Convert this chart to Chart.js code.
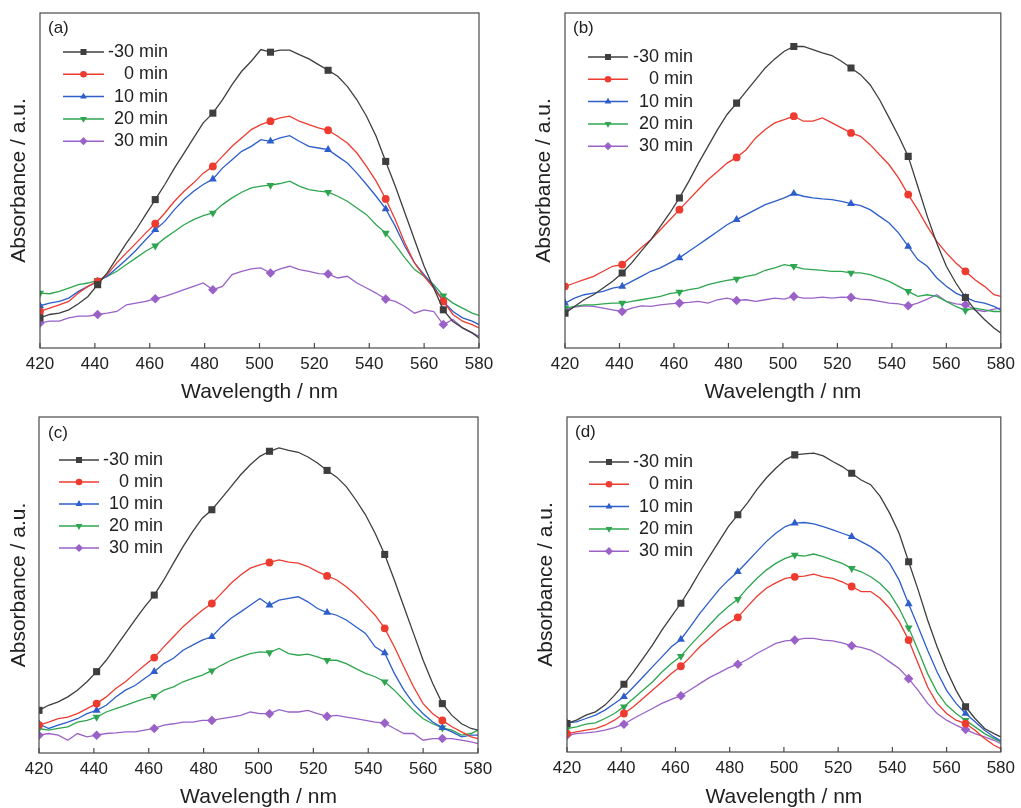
<!DOCTYPE html>
<html>
<head>
<meta charset="utf-8">
<script src="https://cdn.jsdelivr.net/npm/chart.js@4.4.1/dist/chart.umd.min.js"></script>
<style>
  body { margin: 0; background: #fff; width: 1021px; height: 808px; position: relative; overflow: hidden; }
  .panel { position: absolute; }
</style>
</head>
<body>
<div class="panel" id="pa"><canvas id="ca"></canvas></div>
<div class="panel" id="pb"><canvas id="cb"></canvas></div>
<div class="panel" id="pc"><canvas id="cc"></canvas></div>
<div class="panel" id="pd"><canvas id="cd"></canvas></div>
<script>
// wavelength grid (nm), read every 3.5 nm
const wavelengths = [420, 423.5, 427, 430.5, 434, 437.5, 441, 444.5, 448, 451.5, 455, 458.5, 462, 465.5, 469, 472.5,
  476, 479.5, 483, 486.5, 490, 493.5, 497, 500.5, 504, 507.5, 511, 514.5, 518, 521.5, 525, 528.5, 532, 535.5,
  539, 542.5, 546, 549.5, 553, 556.5, 560, 563.5, 567, 570.5, 574, 577.5, 580];
const xTicks = [420, 440, 460, 480, 500, 520, 540, 560, 580];
const seriesLabels = ["-30 min", "0 min", "10 min", "20 min", "30 min"];

// panel (a)
const aM30 = [9.0,10,10.4,11.4,13.2,15.4,18.9,22.4,26.9,31.3,35.3,39.8,44.3,48.8,53.7,58.2,62.7,67.2,70.1,74.1,
  78.6,82.6,85.6,89.1,88.3,88.9,88.9,87.6,86.3,84.6,82.9,81.1,78.1,74.1,69.2,63.2,55.7,48.3,40.3,32.3,24.4,17.9,11.4,7.9,6.0,4.5,3.0];
const a0 = [10.9,11.9,12.9,13.9,16.4,18.4,19.9,21.9,25.4,28.4,31.3,34.3,37.1,40.3,43.8,46.8,49.3,52.2,54.2,57.2,
  60.2,62.7,65.2,66.7,67.7,68.7,69.2,67.7,66.7,65.7,65.0,63.2,61.2,58.2,54.2,49.8,44.5,38.3,31.3,25.4,21.4,17.9,13.9,10.0,8.0,7.0,6.0];
const a10 = [12.6,13.4,13.9,14.9,16.9,18.4,19.9,21.4,23.9,26.4,29.2,32.3,35.3,37.8,41.3,44.3,46.8,48.8,50.4,53.7,
  56.2,58.7,60.2,62.2,61.7,62.7,63.4,61.7,60.2,59.7,59.2,57.2,55.2,52.2,48.8,45.3,41.5,36.3,30.3,25.4,21.9,18.4,13.9,10.9,9.0,8.0,7.0];
const a20 = [16.4,16.2,16.9,17.9,18.9,19.4,20.2,21.4,22.9,24.9,26.9,28.9,30.5,32.8,34.8,36.8,38.3,39.5,40.3,42.8,
  44.8,46.5,47.8,48.3,48.6,49.1,49.8,48.3,47.3,46.8,46.5,45.3,43.8,41.8,39.8,36.8,34.3,30.8,26.9,23.4,21.4,18.9,15.6,13.4,11.9,10.4,9.7];
const a30 = [7.5,8.0,8.0,9.0,9.5,9.5,10.0,10.4,10.9,12.9,13.4,13.9,14.7,15.4,16.4,17.4,18.4,19.4,17.4,18.4,
  21.9,22.9,23.6,23.9,22.4,23.6,24.4,23.4,22.9,22.2,22.1,20.9,21.4,19.4,17.9,16.4,14.6,13.9,12.4,10.4,11.4,10.9,7.0,8.5,6.0,4.5,3.5];

// panel (b)
const bM30 = [10.4,12.4,14.4,15.9,17.9,19.9,22.4,25.4,28.9,32.3,36.3,40.3,44.8,49.8,55.2,60.2,65.2,69.7,73.1,76.6,
  80.1,83.6,86.3,88.6,90.0,90.0,89.1,88.1,87.3,85.6,83.6,81.6,78.6,74.1,68.7,63.2,57.2,48.3,39.3,31.3,24.4,19.4,15.1,11.4,8.5,6.0,4.5];
const b0 = [18.4,19.4,20.4,21.4,22.9,24.4,24.9,27.4,29.9,32.3,35.3,38.3,41.3,44.3,47.3,50.2,52.7,55.2,56.9,59.2,
  62.7,65.2,67.2,68.2,69.2,67.7,67.7,68.7,67.2,65.7,64.2,63.2,60.7,57.7,54.7,50.7,45.8,41.3,36.3,31.8,28.4,25.4,22.9,20.4,18.4,15.9,15.4];
const b10 = [13.4,14.9,15.9,16.4,16.9,17.9,18.4,19.9,21.4,22.9,23.9,25.4,26.9,28.9,30.8,32.8,34.8,36.8,38.3,39.8,
  41.3,42.8,43.8,44.8,46.1,45.3,44.8,44.5,44.3,43.8,43.1,42.5,41.3,39.3,37.3,34.3,30.3,26.4,24.4,20.9,18.4,16.4,15.1,13.9,13.4,12.4,11.4];
const b20 = [11.9,12.4,12.9,12.9,13.2,13.4,13.4,13.9,14.4,14.9,15.4,16.2,16.7,17.4,17.9,18.9,19.6,20.2,20.6,21.4,
  21.9,23.2,23.9,24.9,24.4,23.6,23.4,23.2,22.9,22.9,22.4,22.4,21.9,20.9,19.9,18.4,16.9,15.4,15.9,15.4,13.9,12.4,11.2,11.9,11.4,10.9,10.9];
const b30 = [11.4,12.2,12.6,12.4,11.9,11.4,10.9,11.9,12.6,12.4,12.9,13.2,13.4,13.6,13.9,13.4,14.4,14.9,14.2,14.4,
  13.9,14.4,14.9,14.6,15.4,14.9,14.9,15.2,14.9,15.2,15.1,14.6,14.4,13.9,13.4,13.2,12.6,13.4,14.6,15.9,13.9,13.2,12.9,11.4,10.9,11.6,11.9];

// panel (c)
const cM30 = [12.7,14.2,15.2,16.7,18.7,21.2,24.2,27.6,31.6,35.6,39.6,43.5,47.0,51.5,56.5,61.4,65.9,69.9,72.4,75.8,
  79.3,82.8,85.8,88.3,89.8,90.8,90.1,89.5,88.1,86.3,84.1,82.1,79.3,75.3,70.9,65.4,59.1,51.5,43.5,35.6,27.6,20.7,14.7,11.2,8.7,7.3,6.8];
const c0 = [8.3,9.2,10.2,10.7,11.7,13.2,14.7,16.7,19.2,21.2,23.7,26.1,28.4,31.6,34.6,37.6,40.1,42.5,44.5,47.5,
  50.5,53.0,55.0,56.0,56.7,57.5,56.8,56.5,55.5,54.0,52.7,51.5,49.5,47.0,44.0,41.0,37.1,31.6,25.6,19.7,14.7,11.7,9.7,7.8,6.3,4.8,4.3];
const c10 = [8.7,7.3,8.3,9.2,10.2,11.7,12.7,14.2,16.7,18.7,20.1,22.2,24.2,26.6,28.2,30.6,32.1,33.6,34.6,37.6,
  40.1,42.0,44.0,46.0,44.0,45.5,46.0,46.5,45.0,43.0,41.8,41.0,39.6,37.6,35.6,31.6,29.8,23.7,18.7,14.7,11.7,9.2,7.5,6.3,4.8,5.3,5.3];
const c20 = [7.3,6.8,7.3,7.8,9.2,9.7,10.7,12.2,13.2,14.2,15.2,16.2,16.9,18.7,19.7,21.2,22.2,23.2,24.5,26.1,
  27.6,28.6,29.6,30.1,29.9,31.1,29.6,29.1,29.4,28.6,27.6,27.6,26.6,25.1,23.7,22.7,21.2,18.7,15.7,12.7,10.2,8.7,7.5,6.8,5.3,5.8,6.8];
const c30 = [5.3,5.8,5.3,3.8,5.8,4.8,5.3,5.8,6.0,6.3,6.3,6.8,7.3,8.3,8.7,9.2,9.2,9.7,9.7,10.2,
  10.7,11.2,12.2,11.7,11.7,12.9,12.2,12.2,12.7,11.7,10.9,11.2,10.7,10.2,9.7,9.2,8.9,7.3,5.8,5.8,3.8,4.3,4.3,4.3,3.8,3.3,2.8];

// panel (d)
const dM30 = [8.5,9.5,11.0,12.0,14.0,16.9,20.2,23.9,27.9,31.9,36.4,40.4,44.4,48.9,53.8,58.3,62.8,67.3,70.8,74.3,
  78.3,81.8,84.7,87.2,88.7,89.0,89.2,88.4,86.7,85.2,83.2,81.2,79.8,76.3,71.3,65.3,56.8,48.4,39.4,31.4,24.4,18.4,13.5,10.0,7.0,5.5,4.5];
const d0 = [5.5,6.0,6.5,7.0,8.0,9.5,11.5,13.5,16.0,18.4,20.9,23.4,25.6,28.4,31.4,33.9,36.4,38.4,40.2,43.4,
  46.4,48.9,50.5,51.8,52.3,52.5,53.1,52.3,51.8,50.8,49.4,47.9,47.9,45.9,42.9,38.9,33.4,26.4,19.4,14.5,11.5,9.5,8.5,6.5,4.0,2.0,1.0];
const d10 = [8.7,9.0,10.0,11.0,12.5,14.5,16.5,19.4,22.4,25.4,28.4,31.4,33.6,37.4,41.4,44.9,48.4,51.3,53.8,56.8,
  59.8,62.8,65.3,67.3,68.3,68.5,68.1,67.3,66.3,65.3,64.3,62.8,61.3,59.3,56.3,51.3,44.2,37.4,30.4,23.9,18.4,14.5,11.5,9.0,6.5,4.5,3.3];
const d20 = [7.0,7.5,8.3,8.7,10.0,11.5,13.5,16.0,18.4,20.9,23.9,26.4,28.6,31.9,34.9,37.9,40.9,43.4,45.6,48.9,
  51.8,54.3,56.3,57.8,58.8,58.5,59.1,58.3,57.3,56.3,54.8,53.8,52.3,50.3,47.4,42.9,37.1,30.4,23.4,17.9,14.0,11.5,9.5,7.5,5.5,4.0,3.0];
const d30 = [5.0,5.5,5.7,6.0,6.5,7.3,8.3,10.0,11.5,13.0,14.5,15.7,16.8,18.6,20.4,22.2,23.6,25.1,26.2,27.6,
  29.4,30.9,32.4,33.2,33.4,33.9,33.9,33.4,33.2,32.6,31.7,31.2,30.4,28.9,26.9,24.9,21.9,18.4,14.5,11.5,9.5,8.0,6.7,5.5,4.5,3.5,2.5];

const colors = ["#3e3e3e", "#ee3b30", "#2d5ecb", "#2ea64f", "#9a62c8"];
const pointStyles = ["rect", "circle", "triangle", "triangle", "rectRot"];
const pointRotations = [0, 0, 0, 180, 0];
const markerSizes = [5, 3.9, 4.6, 4.6, 4.8];
const FONT = '"Liberation Sans", Arial, sans-serif';

Chart.defaults.font.family = FONT;
Chart.defaults.color = "#222";

// frame, inward ticks, panel tag and line+marker legend
const decorPlugin = {
  id: "decor",
  afterDatasetsDraw(chart, args, opts) {
    const { ctx, chartArea: a, scales: { x } } = chart;
    ctx.save();
    ctx.strokeStyle = "#4a4a4a";
    ctx.lineWidth = 1.2;
    ctx.strokeRect(a.left, a.top, a.right - a.left, a.bottom - a.top);
    x.ticks.forEach(t => {
      const px = x.getPixelForValue(t.value);
      ctx.beginPath();
      ctx.moveTo(px, a.bottom);
      ctx.lineTo(px, a.bottom - 5);
      ctx.stroke();
    });
    ctx.fillStyle = "#222";
    ctx.textBaseline = "middle";
    ctx.textAlign = "left";
    ctx.font = "17px " + FONT;
    ctx.fillText(opts.tag, a.left + opts.tagX, a.top + opts.tagY);

    chart.data.datasets.forEach((ds, i) => {
      const y = a.top + opts.y0 + i * opts.dy;
      ctx.strokeStyle = ds.borderColor;
      ctx.lineWidth = 1.5;
      ctx.beginPath();
      ctx.moveTo(a.left + opts.x0, y);
      ctx.lineTo(a.left + opts.x1, y);
      ctx.stroke();
      ctx.fillStyle = ds.borderColor;
      Chart.helpers.drawPoint(ctx, {
        pointStyle: ds.pointStyle,
        rotation: ds.pointRotation,
        radius: markerSizes[i] * 0.85,
        borderWidth: 0
      }, a.left + (opts.x0 + opts.x1) / 2, y);
      ctx.fillStyle = "#222";
      ctx.textAlign = "right";
      ctx.font = "18px " + FONT;
      ctx.fillText(ds.label, a.left + opts.textRight, y);
    });
    ctx.restore();
  }
};

function makePanel(divId, canvasId, box, area, series, legend) {
  const div = document.getElementById(divId);
  div.style.left = box.left + "px";
  div.style.top = box.top + "px";
  div.style.width = box.width + "px";
  div.style.height = box.height + "px";
  const canvas = document.getElementById(canvasId);
  canvas.width = box.width;
  canvas.height = box.height;

  const datasets = series.map((vals, i) => ({
    label: seriesLabels[i],
    data: wavelengths.map((w, j) => ({ x: w, y: vals[j] })),
    borderColor: colors[i],
    backgroundColor: colors[i],
    borderWidth: 1.3,
    pointStyle: pointStyles[i],
    pointRotation: pointRotations[i],
    pointBorderWidth: 0,
    pointBackgroundColor: colors[i],
    pointRadius: c => (c.dataIndex % 6 === 0 && c.dataIndex <= 42) ? markerSizes[i] : 0,
    tension: 0
  }));

  return new Chart(canvas.getContext("2d"), {
    type: "line",
    data: { datasets },
    options: {
      responsive: false,
      animation: false,
      events: [],
      layout: {
        padding: {
          left: 0,
          top: area.top - box.top,
          right: box.left + box.width - area.right,
          bottom: 0
        }
      },
      plugins: { legend: { display: false }, tooltip: { enabled: false }, decor: legend },
      scales: {
        x: {
          type: "linear",
          min: 420,
          max: 580,
          afterBuildTicks: s => { s.ticks = xTicks.map(v => ({ value: v })); },
          afterFit: s => { s.height = box.top + box.height - area.bottom; },
          grid: { display: false, drawTicks: false },
          border: { display: false },
          ticks: { padding: 6, font: { size: 17 }, color: "#222" },
          title: { display: true, text: "Wavelength / nm", font: { size: 21 }, color: "#222", padding: { top: 0, bottom: 0 } }
        },
        y: {
          min: 0,
          max: 100,
          afterFit: s => { s.width = area.left - box.left; },
          grid: { display: false, drawTicks: false },
          border: { display: false },
          ticks: { display: false },
          title: { display: true, text: "Absorbance / a.u.", font: { size: 21 }, color: "#222", padding: { top: 7, bottom: 0 } }
        }
      }
    },
    plugins: [decorPlugin]
  });
}

makePanel("pa", "ca", { left: 0, top: 0, width: 505, height: 405 }, { left: 40, top: 13, right: 479, bottom: 348 },
  [aM30, a0, a10, a20, a30], { tag: "(a)", tagX: 8, tagY: 15, x0: 23, x1: 64, textRight: 128, y0: 39, dy: 22.3 });
makePanel("pb", "cb", { left: 525, top: 0, width: 496, height: 405 }, { left: 565, top: 13, right: 1003, bottom: 348 },
  [bM30, b0, b10, b20, b30], { tag: "(b)", tagX: 8, tagY: 15, x0: 23, x1: 63, textRight: 128, y0: 44, dy: 22.3 });
makePanel("pc", "cc", { left: 0, top: 400, width: 505, height: 410 }, { left: 39, top: 417, right: 478, bottom: 753 },
  [cM30, c0, c10, c20, c30], { tag: "(c)", tagX: 9, tagY: 16, x0: 20, x1: 60, textRight: 124, y0: 43, dy: 22.0 });
makePanel("pd", "cd", { left: 527, top: 400, width: 494, height: 410 }, { left: 567, top: 417, right: 1006, bottom: 752 },
  [dM30, d0, d10, d20, d30], { tag: "(d)", tagX: 8, tagY: 15, x0: 22, x1: 62, textRight: 126, y0: 45, dy: 22.3 });
</script>
</body>
</html>
